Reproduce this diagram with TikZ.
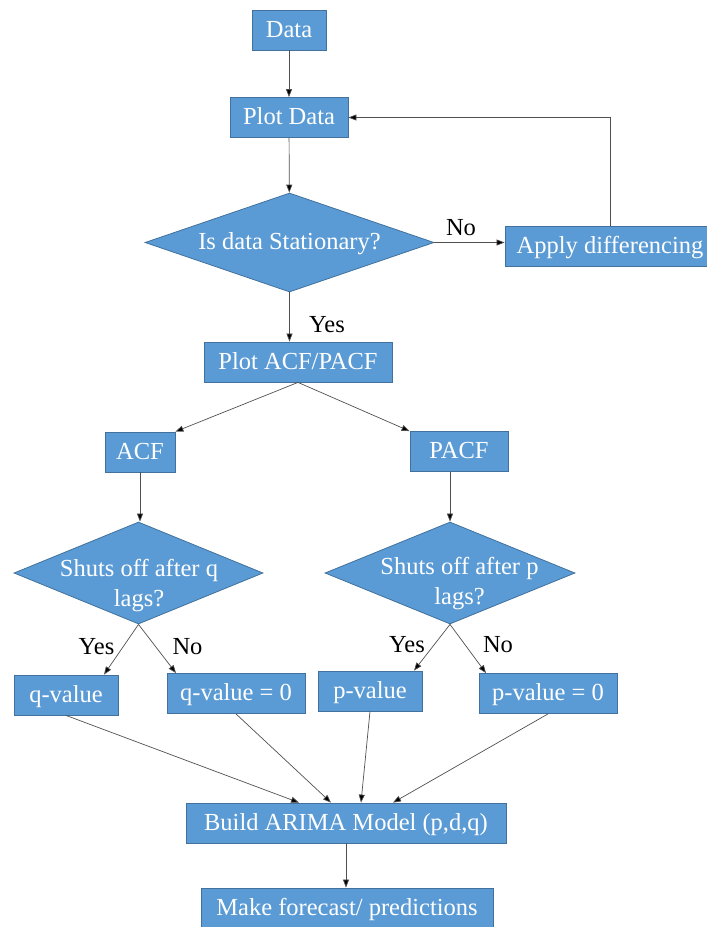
\documentclass[tikz,border=0pt]{standalone}
\usepackage{fontspec}
\setmainfont{Liberation Serif}
\usetikzlibrary{shapes.geometric,arrows.meta}
\definecolor{boxblue}{HTML}{5B9BD5}
\definecolor{boxedge}{HTML}{41719C}
\definecolor{linegray}{HTML}{505050}

\begin{document}
\begin{tikzpicture}[x=1pt,y=-1pt,
    font=\fontsize{24.5}{30}\selectfont,
    process/.style={rectangle,fill=boxblue,draw=boxedge,line width=0.8pt,text=white,
        inner sep=0pt,minimum height=40pt,text height=19pt,text depth=5pt},
    decision/.style={diamond,fill=boxblue,draw=boxedge,line width=0.8pt,text=white,inner sep=0pt,
        text height=19pt,text depth=5pt},
    dtext/.style={text=white,align=center,inner sep=0pt},
    answer/.style={text=black,inner sep=0pt},
    flow/.style={draw=linegray,line width=0.7pt,-{Triangle[length=8pt,width=6pt,fill=black]}}]
    \useasboundingbox (0,0) rectangle (707,927);

                        \node (data) at (289,30) [process,minimum width=74pt] {Data};
                        \node (plot) at (289,117.5) [process,minimum width=118pt] {Plot Data};
                        \node (stat) at (289.5,242.5) [decision,aspect=2.92,minimum width=289pt,minimum height=99pt] {Is data Stationary?};
                        \node (diff) at (610,246) [process,minimum width=210pt] {Apply differencing};
                        \node (no1) at (461,228) [answer] {No};
                        \node (yes1) at (327,325) [answer] {Yes};
                        \node (acfplot) at (298,362) [process,minimum width=188pt] {Plot ACF/PACF};
                        \node (acf) at (140,452) [process,minimum width=70pt] {ACF};
                        \node (pacf) at (459,451.5) [process,minimum width=98pt] {PACF};

                        \node (qcut) at (138.5,573) [decision,minimum width=249pt,minimum height=102pt] {};
                        \node (qtext) at (139,586) [dtext] {Shuts off after q\\lags?};
                        \node (pcut) at (450,573) [decision,minimum width=250pt,minimum height=102pt] {};
                        \node (ptext) at (459.5,584) [dtext] {Shuts off after p\\lags?};

                        \node (yesq) at (96.5,647) [answer] {Yes};
                        \node (noq) at (187.5,647) [answer] {No};
                        \node (yesp) at (407,645) [answer] {Yes};
                        \node (nop) at (498,645) [answer] {No};

                        \node (qval) at (66,695) [process,minimum width=104pt] {q-value};
                        \node (qzero) at (236,693.5) [process,minimum width=138pt] {q-value = 0};
                        \node (pval) at (370,691) [process,minimum width=104pt] {p-value};
                        \node (pzero) at (548,693.5) [process,minimum width=138pt] {p-value = 0};
                        \node (arima) at (346,823) [process,minimum width=320pt] {Build ARIMA Model (p,d,q)};
                        \node (fcst) at (347,908) [process,minimum width=292pt] {Make forecast/ predictions};

                    \draw [flow] (data) -- (plot);
                    \draw [flow] (plot) -- (stat);
                    \draw [flow] (stat.east) -- (stat.east -| diff.west);
                    \draw [flow] (diff.north) |- (plot.east);
                    \draw [flow] (stat.south) -- (stat.south |- acfplot.north);
                    \draw [flow] (acfplot.south) -- (acf.north east);
                    \draw [flow] (acfplot.south) -- (pacf.north west);
                    \draw [flow] (acf.south) -- (acf.south |- qcut.north);
                    \draw [flow] (pacf.south -| pcut.north) -- (pcut.north);

                    \draw [flow] (qcut.south) -- ([xshift=38pt]qval.north);
                    \draw [flow] (qcut.south) -- ([xshift=-60pt]qzero.north);
                    \draw [flow] (pcut.south) -- ([xshift=44pt]pval.north);
                    \draw [flow] (pcut.south) -- ([xshift=-62pt]pzero.north);

                    \draw [flow] (qval.south) -- ([xshift=-47pt]arima.north);
                    \draw [flow] (qzero.south) -- ([xshift=-15pt]arima.north);
                    \draw [flow] (pval.south) -- ([xshift=15pt]arima.north);
                    \draw [flow] (pzero.south) -- ([xshift=47pt]arima.north);
                    \draw [flow] (arima.south) -- (arima.south |- fcst.north);

\end{tikzpicture}
\end{document}
